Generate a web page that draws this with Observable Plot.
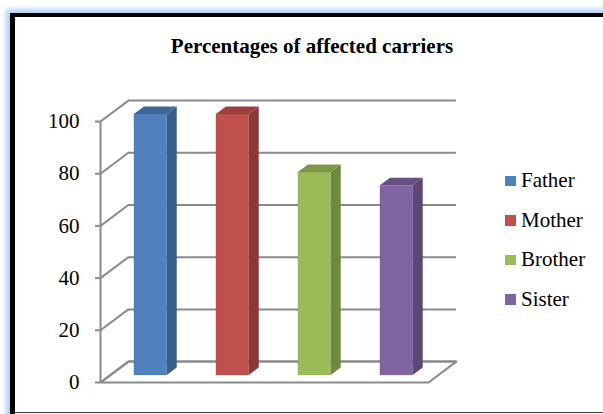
<!DOCTYPE html>
<html>
<head>
<meta charset="utf-8">
<script src="https://cdn.jsdelivr.net/npm/d3@7"></script>
<script src="https://cdn.jsdelivr.net/npm/@observablehq/plot@0.6"></script>
<style>
  html, body { margin: 0; padding: 0; background: #fff; }
  #chart {
    position: relative; width: 603px; height: 414px; overflow: hidden;
    font-family: "Liberation Serif", serif; color: #000;
  }
  #frame {
    position: absolute; left: 10px; top: 13px; width: 640px; height: 440px;
    border-left: 5px solid #000; border-top: 4.5px solid #000;
    box-shadow: 0 0 5px 4px rgba(176, 208, 246, 1);
  }
  #baseline {
    position: absolute; left: 15px; top: 411.5px; width: 600px; height: 1.5px; background: #3c3c3c;
  }
  #plot { position: absolute; left: 0; top: 0; }
  #title {
    position: absolute; left: 0; top: 36.4px; width: 624px; text-align: center;
    font-family: "Liberation Serif", serif;
    font-weight: bold; font-size: 21px; line-height: 21px; white-space: nowrap;
  }
  .legend-row {
    position: absolute; left: 505px; height: 21px; display: flex; align-items: flex-start;
    font-family: "Liberation Serif", serif;
    font-size: 21px; line-height: 21px; white-space: nowrap;
  }
  .legend-swatch { width: 10.5px; height: 10.5px; margin-top: 5.6px; margin-right: 5.5px; flex: none; }
  .legend-label { font-family: "Liberation Serif", serif; }
</style>
</head>
<body>
<div id="chart">
  <div id="frame"></div>
  <div id="baseline"></div>
  <div id="plot"></div>
  <div id="title"></div>
  <div id="legend"></div>
</div>
<script>
// Share of affected carriers by family member (%)
const title = "Percentages of affected carriers";
const categories = ["Father", "Mother", "Brother", "Sister"];
const percentages = [100, 100, 77.8, 72.7];
const yTicks = [0, 20, 40, 60, 80, 100];

// Office-style palette: front face, side face
const frontColors = ["#4f81bd", "#c0504d", "#9bbb59", "#8064a2"];
const sideColors  = ["#385d8a", "#8c3836", "#71893f", "#5c4776"];
const topColors = frontColors.map((c, i) => d3.interpolateRgb(c, sideColors[i])(0.7));

// 3-D box: wall depth expressed in scale units (x: category slots, y: percent)
const DEPTH_X = 0.34, DEPTH_Y = 8;
// columns sit a third of the way into the box and are about a third as deep
const FRONT = 1 / 3, COL_DEPTH = 0.36;
const COL_PAD = 0.3; // gap on each side of a column within its slot
const GRID = "#8a8a8a";

const bars = categories.map((c, i) => ({c, i, v: percentages[i]}));
const fx = FRONT * DEPTH_X, fy = FRONT * DEPTH_Y;
const cx = COL_DEPTH * DEPTH_X, cy = COL_DEPTH * DEPTH_Y;
const n = categories.length;

// side faces (vertical parallelograms) and top faces (horizontal parallelograms)
const sides = bars.flatMap(d => [
  {i: d.i, x: d.i + 1 - COL_PAD + fx, y1: fy, y2: d.v + fy},
  {i: d.i, x: d.i + 1 - COL_PAD + fx + cx, y1: fy + cy, y2: d.v + fy + cy}
]);
const tops = bars.flatMap(d => [
  {i: d.i, y: d.v + fy, x1: d.i + COL_PAD + fx, x2: d.i + 1 - COL_PAD + fx},
  {i: d.i, y: d.v + fy + cy, x1: d.i + COL_PAD + fx + cx, x2: d.i + 1 - COL_PAD + fx + cx}
]);
const floor = [
  {x: 0, y: 0}, {x: n, y: 0}, {x: n + DEPTH_X, y: DEPTH_Y}, {x: DEPTH_X, y: DEPTH_Y}, {x: 0, y: 0}
];

const chart = Plot.plot({
  width: 603,
  height: 414,
  marginLeft: 100,
  marginRight: 175,
  marginTop: 121,
  marginBottom: 32,
  x: {domain: [0, n], axis: null},
  y: {domain: [0, 100], axis: null},
  color: {type: "identity"},
  style: {background: "transparent", fontFamily: "'Liberation Serif', serif", overflow: "visible"},
  marks: [
    // floor
    Plot.line(floor, {x: "x", y: "y", fill: "white", stroke: GRID, strokeWidth: 2, curve: "linear"}),
    // back wall gridlines
    Plot.ruleY(yTicks, {y: d => d + DEPTH_Y, x1: DEPTH_X, x2: n + DEPTH_X, stroke: GRID, strokeWidth: 2}),
    // side wall gridlines
    Plot.link(yTicks, {x1: 0, y1: d => d, x2: DEPTH_X, y2: d => d + DEPTH_Y, stroke: GRID, strokeWidth: 2}),
    // value axis
    Plot.ruleX([0], {y1: 0, y2: 100, stroke: GRID, strokeWidth: 2}),
    Plot.axisY(yTicks, {
      tickSize: 5, tickPadding: 16, stroke: GRID, strokeWidth: 2,
      fill: "#000", fontSize: 21, label: null
    }),
    // columns
    Plot.areaY(sides, {x: "x", y1: "y1", y2: "y2", z: "i", fill: d => sideColors[d.i], curve: "linear"}),
    Plot.areaX(tops, {y: "y", x1: "x1", x2: "x2", z: "i", fill: d => topColors[d.i], curve: "linear"}),
    Plot.rect(bars, {
      x1: d => d.i + COL_PAD + fx, x2: d => d.i + 1 - COL_PAD + fx,
      y1: fy, y2: d => d.v + fy,
      fill: d => frontColors[d.i], stroke: "rgba(0,0,0,0.08)", strokeWidth: 1
    })
  ]
});
document.getElementById("plot").appendChild(chart);
document.getElementById("title").textContent = title;

// legend, one row per family member
const legend = document.getElementById("legend");
categories.forEach((c, i) => {
  const row = document.createElement("div");
  row.className = "legend-row";
  row.style.top = (170.1 + i * 39.6) + "px";
  const sw = document.createElement("span");
  sw.className = "legend-swatch";
  sw.style.background = frontColors[i];
  const label = document.createElement("span");
  label.className = "legend-label";
  label.textContent = c;
  row.append(sw, label);
  legend.appendChild(row);
});
</script>
</body>
</html>
